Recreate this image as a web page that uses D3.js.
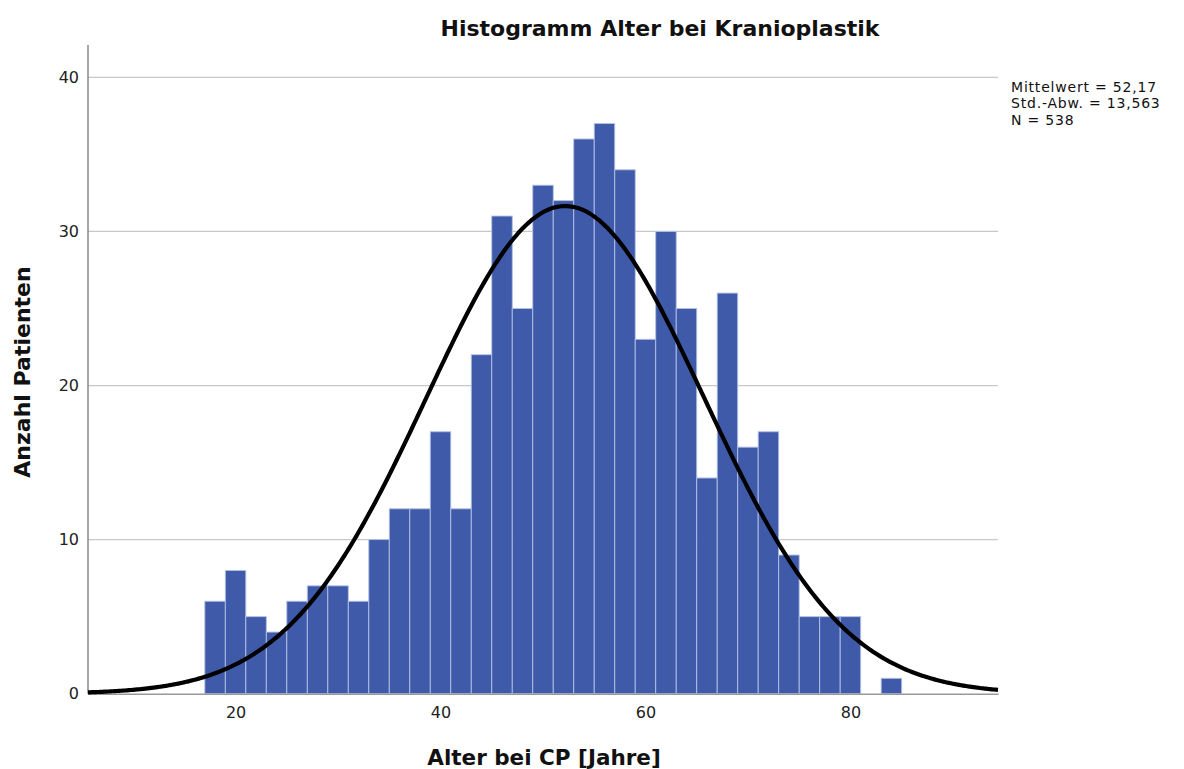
<!DOCTYPE html>
<html>
<head>
<meta charset="utf-8">
<script src="https://cdn.jsdelivr.net/npm/d3@7"></script>
<style>
  body { margin: 0; background: #fff; }
  text { font-family: "DejaVu Sans", sans-serif; }
</style>
</head>
<body>
<script>
// histogram data
var binStart = 17;
var binWidth = 2;
var counts = [6, 8, 5, 4, 6, 7, 7, 6, 10, 12, 12, 17, 12, 22, 31, 25, 33, 32,
              36, 37, 34, 23, 30, 25, 14, 26, 16, 17, 9, 5, 5, 5, 0, 1];

// fitted normal curve parameters (from the legend)
var mean = 52.17;
var sd = 13.563;
var n = 538;
var statLabels = ["Mittelwert = 52,17", "Std.-Abw. = 13,563", "N = 538"];

var xTicks = [20, 40, 60, 80];
var yTicks = [0, 10, 20, 30, 40];

// Step 1: chart setup
//= ================================
var svgWidth = 1184;
var svgHeight = 769;
var plot = { left: 88, right: 998, top: 45, bottom: 693.7 };

var svg = d3.select("body")
    .append("svg")
    .attr("width", svgWidth)
    .attr("height", svgHeight);

var xScale = d3.scaleLinear()
    .domain([5.6, 94.4])
    .range([plot.left, plot.right]);

var yScale = d3.scaleLinear()
    .domain([0, 42.1])
    .range([plot.bottom, plot.top]);

// gridlines
svg.append("g")
    .selectAll("line")
    .data(yTicks.filter(d => d > 0))
    .enter()
    .append("line")
    .attr("x1", plot.left)
    .attr("x2", plot.right)
    .attr("y1", d => yScale(d))
    .attr("y2", d => yScale(d))
    .attr("stroke", "#c8c8c8")
    .attr("stroke-width", 1.3);

// bars
var bins = counts.map((c, i) => ({ x0: binStart + i * binWidth, x1: binStart + (i + 1) * binWidth, count: c }));

svg.append("g")
    .selectAll("rect")
    .data(bins.filter(d => d.count > 0))
    .enter()
    .append("rect")
    .attr("x", d => xScale(d.x0))
    .attr("width", d => xScale(d.x1) - xScale(d.x0))
    .attr("y", d => yScale(d.count))
    .attr("height", d => yScale(0) - yScale(d.count))
    .attr("fill", "#3f5aa8")
    .attr("stroke", "#b4c0e6")
    .attr("stroke-width", 0.9);

// axes
var xAxis = d3.axisBottom(xScale).tickValues(xTicks).tickSize(0).tickPadding(13);
var yAxis = d3.axisLeft(yScale).tickValues(yTicks).tickSize(0).tickPadding(9);

var gx = svg.append("g")
    .attr("transform", `translate(0, ${plot.bottom})`)
    .call(xAxis);
gx.select(".domain").attr("stroke", "#999").attr("stroke-width", 1.5);
gx.selectAll("text").attr("font-size", 16).attr("fill", "#222")
    .attr("font-family", "DejaVu Sans");

var gy = svg.append("g")
    .attr("transform", `translate(${plot.left}, 0)`)
    .call(yAxis);
gy.select(".domain").attr("d", `M0,${plot.top}V${plot.bottom}`)
    .attr("stroke", "#888").attr("stroke-width", 1.5);
gy.selectAll("text").attr("font-size", 16).attr("fill", "#222")
    .attr("font-family", "DejaVu Sans");

// normal curve
var scaleFactor = n * binWidth;
function normal(x) {
    return scaleFactor / (sd * Math.sqrt(2 * Math.PI)) * Math.exp(-0.5 * Math.pow((x - mean) / sd, 2));
}
var curveXs = d3.range(5.6, 94.41, 0.2);
var curveLine = d3.line()
    .x(d => xScale(d))
    .y(d => yScale(normal(d)))
    .curve(d3.curveBasis);

svg.append("path")
    .attr("d", curveLine(curveXs))
    .attr("fill", "none")
    .attr("stroke", "#000")
    .attr("stroke-width", 4.2);

// titles
svg.append("text")
    .attr("x", 660)
    .attr("y", 36)
    .attr("text-anchor", "middle")
    .attr("font-size", 22)
    .attr("font-weight", "bold")
    .attr("fill", "#111")
    .text("Histogramm Alter bei Kranioplastik");

svg.append("text")
    .attr("x", 544)
    .attr("y", 765)
    .attr("text-anchor", "middle")
    .attr("font-size", 21.5)
    .attr("font-weight", "bold")
    .attr("fill", "#111")
    .text("Alter bei CP [Jahre]");

svg.append("text")
    .attr("transform", "translate(30, 372) rotate(-90)")
    .attr("text-anchor", "middle")
    .attr("font-size", 22)
    .attr("font-weight", "bold")
    .attr("fill", "#111")
    .text("Anzahl Patienten");

// stats box
svg.append("g")
    .selectAll("text")
    .data(statLabels)
    .enter()
    .append("text")
    .attr("x", 1011)
    .attr("y", (d, i) => 92 + i * 16.3)
    .attr("font-size", 14)
    .attr("letter-spacing", 0.8)
    .attr("fill", "#111")
    .text(d => d);
</script>
</body>
</html>
